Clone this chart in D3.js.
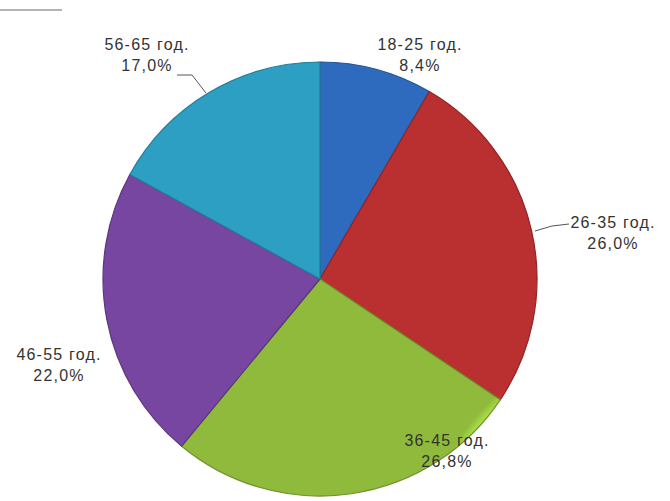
<!DOCTYPE html>
<html><head><meta charset="utf-8">
<script src="https://cdn.jsdelivr.net/npm/d3@7"></script>
<style>body{margin:0;background:#fff}svg{display:block}</style>
</head><body>
<script>
const categories = ["18-25 год.", "26-35 год.", "36-45 год.", "46-55 год.", "56-65 год."];
const values = [8.4, 26.0, 26.6, 22.0, 17.0];
const valueLabels = ["8,4%", "26,0%", "26,8%", "22,0%", "17,0%"];
const colors = ["#3173cc", "#c83232", "#9ac83f", "#7f4bad", "#2fabd0"];

const W = 670, H = 501;
const cx = 320, cy = 279, R = 217;
const svg = d3.select("body").append("svg").attr("width", W).attr("height", H);

// top-left decoration line
svg.append("rect").attr("x", 0).attr("y", 9).attr("width", 62).attr("height", 2).attr("fill", "#b4b4b4");

const defs = svg.append("defs");
colors.forEach((c, i) => {
  const g = defs.append("radialGradient").attr("id", "g" + i)
    .attr("gradientUnits", "userSpaceOnUse").attr("cx", cx).attr("cy", cy).attr("r", R);
  g.append("stop").attr("offset", "0%").attr("stop-color", d3.color(c).brighter(0.2));
  g.append("stop").attr("offset", "80%").attr("stop-color", c);
  g.append("stop").attr("offset", "96%").attr("stop-color", d3.color(c).brighter(0.3));
  g.append("stop").attr("offset", "100%").attr("stop-color", d3.color(c).darker(0.2));
});

const pie = d3.pie().sort(null).value(d => d)(values);
const arc = d3.arc().innerRadius(0).outerRadius(R);
const gp = svg.append("g").attr("transform", `translate(${cx},${cy})`);
gp.selectAll("path").data(pie).join("path")
  .attr("d", arc)
  .attr("fill", (d, i) => `url(#g${i})`)
  .attr("stroke", (d, i) => d3.color(colors[i]).darker(0.9))
  .attr("stroke-width", 1.2)
  .attr("stroke-linejoin", "round");

// label anchor points (center x, first baseline y)
const labelPos = [
  [420, 50], [613, 228], [447, 446], [59, 360], [147, 50]
];
const lab = svg.append("g").attr("font-family", "Liberation Sans, Arial, sans-serif")
  .attr("font-size", 16).attr("letter-spacing", 1.2).attr("fill", "#333").attr("text-anchor", "middle");
categories.forEach((c, i) => {
  const t = lab.append("text").attr("x", labelPos[i][0]).attr("y", labelPos[i][1]);
  t.append("tspan").attr("x", labelPos[i][0]).attr("dy", 0).text(c);
  t.append("tspan").attr("x", labelPos[i][0]).attr("dy", 21).text(valueLabels[i]);
});

// leader lines
const leaders = [
  [[535, 231], [552, 226], [569, 224]],
  [[177, 75], [192, 75], [206, 93]]
];
leaders.forEach(pts => {
  svg.append("path").attr("d", d3.line()(pts)).attr("fill", "none")
    .attr("stroke", "#555").attr("stroke-width", 1);
});
</script>
</body></html>
